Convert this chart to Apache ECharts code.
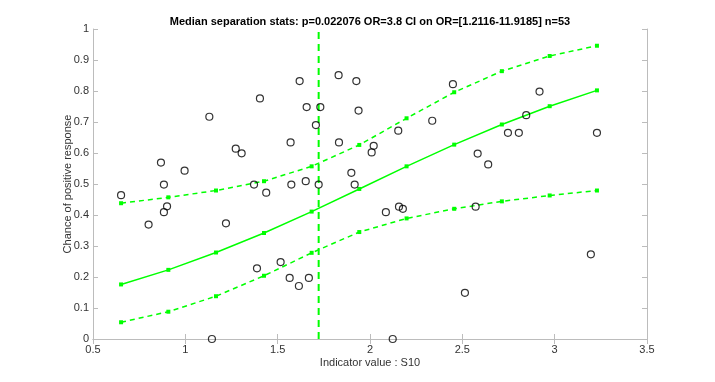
<!DOCTYPE html>
<html>
<head>
<meta charset="utf-8">
<script src="https://cdn.jsdelivr.net/npm/echarts@6/dist/echarts.min.js"></script>
<style>html,body{margin:0;padding:0;background:#fff}#c{width:715px;height:382px}</style>
</head>
<body>
<div id="c"></div>
<script>
// Observed data points (indicator value, response chance)
var pointX = [1.619,1.830,1.926,1.404,1.657,1.731,1.938,1.130,1.707,1.570,1.832,1.273,1.305,2.020,2.009,0.868,0.996,1.899,0.884,1.372,1.574,1.652,1.722,1.917,0.652,1.438,0.901,0.884,0.801,1.220,1.516,1.388,1.565,1.669,1.615,1.144,2.449,2.918,2.846,2.337,2.153,2.747,2.806,3.229,2.583,2.640,2.086,2.157,2.178,2.572,3.196,2.514,2.123];
var pointY = [0.832,0.851,0.832,0.776,0.748,0.748,0.737,0.717,0.690,0.634,0.634,0.614,0.599,0.623,0.602,0.569,0.543,0.536,0.498,0.498,0.498,0.509,0.498,0.498,0.464,0.472,0.428,0.409,0.369,0.373,0.248,0.228,0.197,0.197,0.171,0.000,0.822,0.798,0.722,0.704,0.672,0.665,0.665,0.665,0.598,0.563,0.409,0.427,0.420,0.427,0.273,0.149,0.000];
// Fit curve and confidence bounds
var fitX = [0.652,0.908,1.166,1.426,1.684,1.942,2.198,2.456,2.714,2.973,3.229];
var fitY = [0.176,0.223,0.279,0.342,0.411,0.484,0.557,0.627,0.692,0.751,0.802];
var upperY = [0.438,0.457,0.479,0.509,0.557,0.626,0.712,0.796,0.864,0.913,0.946];
var lowerY = [0.054,0.088,0.138,0.204,0.278,0.345,0.389,0.420,0.444,0.463,0.479];
var medianX = 1.722;
var xTicks = [0.5,1,1.5,2,2.5,3,3.5];
var yTicks = [0,0.1,0.2,0.3,0.4,0.5,0.6,0.7,0.8,0.9,1];
var titleText = 'Median separation stats: p=0.022076 OR=3.8 CI on OR=[1.2116-11.9185] n=53';
var xLabel = 'Indicator value : S10';
var yLabel = 'Chance of positive response';

function zip(a,b){return a.map(function(v,i){return [v,b[i]];});}
var green = '#00ff00';
var boxColor = '#bcbcbc';
var labelColor = '#333333';
var FONT = 'Liberation Sans, Arial, Helvetica, sans-serif';

var chart = echarts.init(document.getElementById('c'), null, {renderer:'canvas'});
function axisCommon(show){
  return {
    type:'value',
    axisLine:{show:true,lineStyle:{color:boxColor,width:1}},
    axisTick:{show:true,inside:true,length:5,lineStyle:{color:boxColor}},
    splitLine:{show:false},
    axisLabel:{show:show,color:labelColor,fontSize:11,fontFamily:FONT,margin:5}
  };
}
var xa0 = Object.assign(axisCommon(true),{min:xTicks[0],max:xTicks[xTicks.length-1],interval:0.5,position:'bottom'});
var xa1 = Object.assign(axisCommon(false),{min:xTicks[0],max:xTicks[xTicks.length-1],interval:0.5,position:'top'});
var ya0 = Object.assign(axisCommon(true),{min:yTicks[0],max:yTicks[yTicks.length-1],interval:0.1,position:'left'});
ya0.axisLabel.margin = 4;
ya0.axisLabel.formatter = function(v){return String(Math.round(v*10)/10);};
var ya1 = Object.assign(axisCommon(false),{min:yTicks[0],max:yTicks[yTicks.length-1],interval:0.1,position:'right'});

var option = {
  animation:false,
  backgroundColor:'#fff',
  grid:{left:93,right:68,top:29,bottom:43,containLabel:false},
  xAxis:[xa0,xa1],
  yAxis:[ya0,ya1],
  graphic:[
    {type:'text',x:370,y:21.5,style:{text:titleText,font:'bold 11px '+FONT,fill:'#000',textAlign:'center',textVerticalAlign:'middle',x:0,y:0}},
    {type:'text',x:370,y:363,style:{text:xLabel,font:'11px '+FONT,fill:labelColor,textAlign:'center',textVerticalAlign:'middle',x:0,y:0}},
    {type:'text',x:68,y:184,rotation:Math.PI/2,style:{text:yLabel,font:'11px '+FONT,fill:labelColor,textAlign:'center',textVerticalAlign:'middle',x:0,y:0}}
  ],
  series:[
    {type:'line',data:zip(fitX,upperY),symbol:'rect',symbolSize:4,showSymbol:true,itemStyle:{color:green},lineStyle:{color:green,width:1.5,type:[5,4]},z:3},
    {type:'line',data:zip(fitX,lowerY),symbol:'rect',symbolSize:4,showSymbol:true,itemStyle:{color:green},lineStyle:{color:green,width:1.5,type:[5,4]},z:3},
    {type:'line',data:zip(fitX,fitY),symbol:'rect',symbolSize:4,showSymbol:true,itemStyle:{color:green},lineStyle:{color:green,width:1.5},z:3},
    {type:'line',data:[[medianX,0],[medianX,1]],symbol:'none',lineStyle:{color:green,width:2,type:[7,5]},z:3},
    {type:'scatter',data:zip(pointX,pointY),symbol:'circle',symbolSize:7,itemStyle:{color:'rgba(0,0,0,0)',borderColor:'#000',borderWidth:1.2},z:4}
  ]
};
chart.setOption(option);
</script>
</body>
</html>
